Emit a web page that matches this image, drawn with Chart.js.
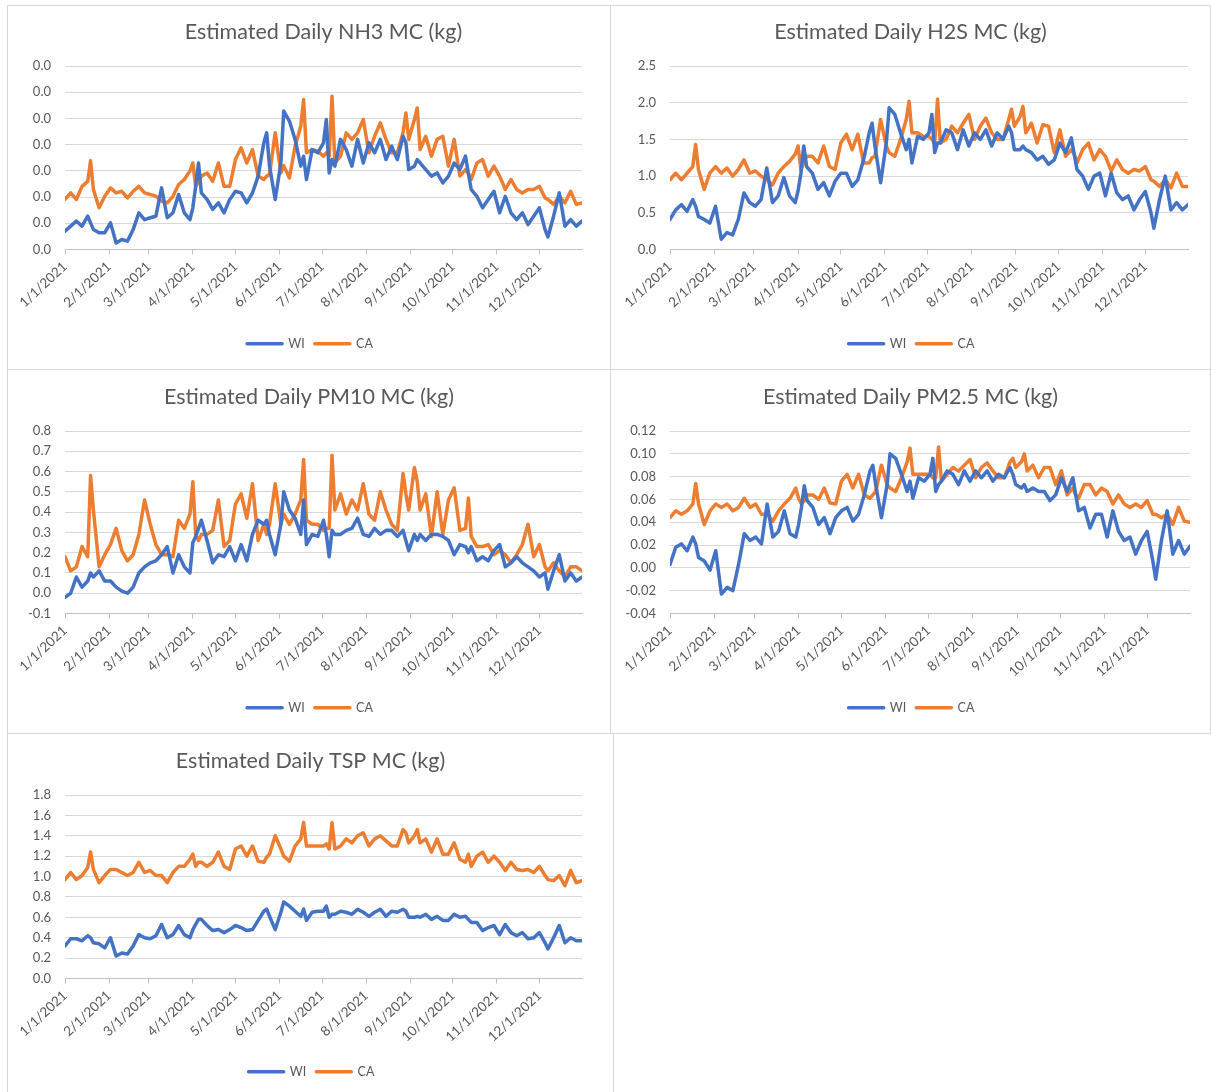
<!DOCTYPE html>
<html>
<head>
<meta charset="utf-8">
<script src="https://cdn.jsdelivr.net/npm/chart.js@4.4.1/dist/chart.umd.min.js"></script>
<style>
html,body{margin:0;padding:0;background:#fff;}
body{width:1211px;height:1092px;position:relative;overflow:hidden;font-family:Lato,sans-serif;}
.panel{position:absolute;box-sizing:border-box;border:1px solid #d9d9d9;background:#fff;}
.panel canvas{display:block;}
</style>
</head>
<body>
<div class="panel" style="left:7px;top:5px;width:604px;height:365px;"><canvas id="c1" width="602" height="363"></canvas></div>
<div class="panel" style="left:610px;top:5px;width:601px;height:365px;"><canvas id="c2" width="599" height="363"></canvas></div>
<div class="panel" style="left:7px;top:369px;width:604px;height:365px;"><canvas id="c3" width="602" height="363"></canvas></div>
<div class="panel" style="left:610px;top:369px;width:601px;height:365px;"><canvas id="c4" width="599" height="363"></canvas></div>
<div class="panel" style="left:7px;top:733px;width:607px;height:360px;"><canvas id="c5" width="605" height="358"></canvas></div>
<script>
// ---- DATA (day of year 2021, 0 = 1/1/2021) ----
const days = [0,4,8,12,16,18,20,24,28,32,
  36,40,44,48,52,56,60,64,68,72,
  76,80,84,88,90,92,94,96,100,104,
  108,112,116,120,124,128,132,136,140,142,
  144,148,152,154,158,162,166,168,170,174,
  178,182,184,186,188,190,194,198,202,206,
  210,214,218,222,226,230,234,238,240,242,
  246,248,250,254,258,262,266,270,274,278,
  282,284,286,290,294,298,302,306,310,314,
  318,322,326,330,334,338,340,344,348,352,
  356,360,364];

const monthTickDays = [0,31,59,90,120,151,181,212,243,273,304,334];
const monthTickLabels = ['1/1/2021','2/1/2021','3/1/2021','4/1/2021','5/1/2021','6/1/2021',
  '7/1/2021','8/1/2021','9/1/2021','10/1/2021','11/1/2021','12/1/2021'];
const seriesNames = ['WI','CA'];

const nh3WI = [0.00070,0.00089,0.00108,0.00089,0.00127,0.00102,0.00076,0.00064,0.00064,0.00102,
  0.00025,0.00038,0.00032,0.00076,0.00140,0.00114,0.00121,0.00127,0.00235,0.00121,
  0.00140,0.00210,0.00140,0.00114,0.00160,0.00241,0.00330,0.00216,0.00191,0.00153,
  0.00178,0.00140,0.00191,0.00222,0.00216,0.00178,0.00216,0.00280,0.00407,0.00445,
  0.00318,0.00191,0.00330,0.00528,0.00490,0.00420,0.00318,0.00356,0.00267,0.00381,
  0.00369,0.00407,0.00496,0.00292,0.00343,0.00318,0.00420,0.00381,0.00318,0.00420,
  0.00330,0.00407,0.00369,0.00420,0.00343,0.00394,0.00343,0.00432,0.00407,0.00305,
  0.00318,0.00343,0.00330,0.00305,0.00280,0.00292,0.00254,0.00280,0.00330,0.00305,
  0.00356,0.00290,0.00229,0.00203,0.00159,0.00191,0.00222,0.00140,0.00203,0.00140,
  0.00114,0.00140,0.00095,0.00127,0.00159,0.00076,0.00048,0.00127,0.00216,0.00089,
  0.00114,0.00089,0.00108];
const nh3CA = [0.00191,0.00216,0.00191,0.00241,0.00260,0.00339,0.00229,0.00159,0.00203,0.00235,
  0.00216,0.00222,0.00197,0.00222,0.00241,0.00216,0.00210,0.00203,0.00184,0.00178,
  0.00203,0.00248,0.00267,0.00300,0.00330,0.00241,0.00260,0.00280,0.00292,0.00260,
  0.00330,0.00241,0.00241,0.00343,0.00388,0.00330,0.00381,0.00280,0.00267,0.00280,
  0.00286,0.00445,0.00292,0.00320,0.00273,0.00394,0.00470,0.00572,0.00369,0.00381,
  0.00375,0.00356,0.00369,0.00356,0.00585,0.00330,0.00356,0.00445,0.00420,0.00445,
  0.00496,0.00369,0.00432,0.00483,0.00420,0.00369,0.00369,0.00445,0.00521,0.00420,
  0.00496,0.00540,0.00381,0.00432,0.00356,0.00420,0.00432,0.00318,0.00420,0.00280,
  0.00305,0.00290,0.00267,0.00330,0.00343,0.00280,0.00318,0.00280,0.00229,0.00267,
  0.00229,0.00216,0.00229,0.00229,0.00241,0.00197,0.00191,0.00172,0.00203,0.00178,
  0.00222,0.00172,0.00178];

const h2sWI = [0.41,0.54,0.61,0.52,0.68,0.59,0.45,0.41,0.36,0.59,
  0.14,0.23,0.20,0.41,0.77,0.64,0.59,0.68,1.11,0.64,
  0.73,0.98,0.73,0.64,0.80,1.04,1.41,1.13,1.04,0.82,
  0.91,0.73,0.93,1.04,1.04,0.86,0.95,1.22,1.59,1.72,
  1.41,0.91,1.45,1.93,1.84,1.59,1.36,1.50,1.18,1.54,
  1.50,1.59,1.84,1.32,1.45,1.45,1.63,1.59,1.36,1.63,
  1.41,1.59,1.50,1.63,1.41,1.59,1.50,1.68,1.59,1.36,
  1.36,1.41,1.36,1.32,1.22,1.27,1.16,1.22,1.45,1.32,
  1.52,1.30,1.09,1.00,0.82,1.00,1.04,0.73,1.04,0.77,
  0.68,0.73,0.54,0.68,0.79,0.50,0.29,0.68,1.00,0.54,
  0.64,0.54,0.61];
const h2sCA = [0.95,1.04,0.95,1.04,1.13,1.43,1.09,0.82,1.04,1.13,
  1.04,1.11,1.00,1.09,1.22,1.04,1.07,1.00,0.95,0.88,
  1.04,1.13,1.20,1.30,1.41,1.09,1.18,1.27,1.27,1.18,
  1.41,1.13,1.09,1.45,1.57,1.36,1.57,1.18,1.18,1.25,
  1.27,1.77,1.41,1.32,1.27,1.50,1.77,2.02,1.59,1.59,
  1.54,1.54,1.50,1.45,2.05,1.45,1.50,1.68,1.59,1.72,
  1.84,1.50,1.68,1.79,1.59,1.50,1.50,1.77,1.91,1.68,
  1.81,1.95,1.59,1.72,1.45,1.70,1.68,1.32,1.63,1.27,
  1.36,1.30,1.18,1.36,1.45,1.22,1.36,1.27,1.07,1.22,
  1.09,1.04,1.09,1.07,1.13,0.95,0.93,0.86,0.95,0.84,
  1.04,0.86,0.86];

const pm10WI = [-0.02,0.00,0.08,0.03,0.06,0.10,0.08,0.11,0.06,0.06,
  0.03,0.01,0.00,0.03,0.10,0.13,0.15,0.16,0.19,0.23,
  0.10,0.19,0.13,0.10,0.25,0.28,0.32,0.36,0.26,0.15,
  0.19,0.18,0.23,0.16,0.24,0.16,0.29,0.36,0.34,0.36,
  0.29,0.19,0.34,0.50,0.41,0.37,0.29,0.46,0.24,0.29,
  0.28,0.36,0.29,0.18,0.31,0.29,0.29,0.31,0.32,0.37,
  0.29,0.28,0.32,0.29,0.31,0.31,0.28,0.31,0.26,0.21,
  0.29,0.26,0.29,0.26,0.29,0.29,0.28,0.26,0.19,0.24,
  0.23,0.20,0.23,0.16,0.18,0.16,0.21,0.24,0.13,0.15,
  0.18,0.15,0.13,0.11,0.08,0.10,0.02,0.11,0.19,0.06,
  0.10,0.06,0.08];
const pm10CA = [0.18,0.11,0.13,0.23,0.18,0.58,0.41,0.13,0.19,0.24,
  0.32,0.21,0.16,0.19,0.29,0.46,0.34,0.24,0.19,0.19,
  0.18,0.36,0.32,0.39,0.55,0.29,0.26,0.29,0.29,0.31,
  0.46,0.23,0.26,0.44,0.49,0.37,0.54,0.26,0.34,0.29,
  0.34,0.54,0.34,0.39,0.34,0.39,0.46,0.66,0.36,0.34,
  0.34,0.31,0.32,0.32,0.68,0.41,0.49,0.39,0.46,0.41,
  0.54,0.39,0.36,0.50,0.41,0.34,0.31,0.59,0.49,0.41,
  0.62,0.55,0.41,0.49,0.28,0.50,0.29,0.46,0.52,0.31,
  0.32,0.47,0.28,0.23,0.23,0.24,0.19,0.21,0.19,0.15,
  0.19,0.24,0.34,0.18,0.24,0.13,0.11,0.15,0.11,0.08,
  0.13,0.13,0.11];

const pm25WI = [0.003,0.018,0.021,0.015,0.027,0.021,0.009,0.006,-0.002,0.015,
  -0.023,-0.017,-0.020,0.003,0.030,0.024,0.027,0.021,0.056,0.027,
  0.032,0.050,0.030,0.027,0.038,0.053,0.072,0.059,0.053,0.038,
  0.044,0.030,0.044,0.050,0.053,0.041,0.047,0.064,0.085,0.090,
  0.073,0.044,0.073,0.100,0.096,0.082,0.067,0.076,0.061,0.079,
  0.076,0.082,0.096,0.067,0.073,0.076,0.085,0.082,0.073,0.085,
  0.076,0.085,0.079,0.085,0.076,0.082,0.079,0.088,0.082,0.073,
  0.070,0.073,0.067,0.070,0.067,0.067,0.059,0.064,0.079,0.067,
  0.079,0.064,0.050,0.053,0.035,0.047,0.047,0.027,0.050,0.032,
  0.024,0.027,0.012,0.024,0.032,0.006,-0.010,0.024,0.050,0.012,
  0.024,0.012,0.019];
const pm25CA = [0.044,0.050,0.047,0.050,0.056,0.074,0.056,0.038,0.050,0.056,
  0.053,0.056,0.050,0.053,0.061,0.053,0.056,0.047,0.047,0.041,
  0.050,0.056,0.061,0.070,0.061,0.056,0.059,0.064,0.064,0.060,
  0.070,0.057,0.056,0.076,0.082,0.070,0.082,0.064,0.061,0.064,
  0.067,0.090,0.073,0.070,0.067,0.079,0.093,0.105,0.082,0.082,
  0.082,0.082,0.079,0.079,0.106,0.076,0.082,0.088,0.085,0.090,
  0.095,0.079,0.088,0.092,0.085,0.079,0.079,0.093,0.096,0.088,
  0.093,0.100,0.085,0.090,0.079,0.088,0.088,0.073,0.085,0.064,
  0.070,0.064,0.061,0.073,0.073,0.064,0.070,0.067,0.056,0.064,
  0.056,0.053,0.056,0.053,0.059,0.047,0.047,0.044,0.047,0.038,
  0.053,0.041,0.040];

const tspWI = [0.32,0.39,0.39,0.37,0.42,0.40,0.35,0.34,0.30,0.40,
  0.22,0.25,0.24,0.32,0.43,0.40,0.39,0.42,0.53,0.40,
  0.43,0.52,0.43,0.40,0.48,0.53,0.58,0.58,0.52,0.47,
  0.48,0.45,0.48,0.52,0.50,0.47,0.48,0.57,0.66,0.68,
  0.61,0.48,0.65,0.75,0.71,0.66,0.61,0.68,0.57,0.65,
  0.66,0.66,0.71,0.60,0.63,0.63,0.66,0.65,0.63,0.68,
  0.65,0.61,0.65,0.68,0.61,0.66,0.65,0.68,0.66,0.60,
  0.60,0.61,0.60,0.63,0.58,0.61,0.57,0.57,0.63,0.60,
  0.61,0.58,0.55,0.55,0.47,0.50,0.52,0.43,0.53,0.45,
  0.42,0.45,0.39,0.40,0.45,0.35,0.29,0.40,0.52,0.35,
  0.40,0.37,0.37];
const tspCA = [0.97,1.04,0.97,1.01,1.09,1.24,1.07,0.94,1.01,1.07,
  1.07,1.04,1.01,1.04,1.14,1.04,1.06,1.01,1.01,0.94,
  1.04,1.10,1.10,1.17,1.22,1.10,1.14,1.14,1.10,1.14,
  1.24,1.10,1.07,1.27,1.30,1.20,1.30,1.15,1.14,1.19,
  1.22,1.40,1.27,1.20,1.15,1.30,1.37,1.53,1.30,1.30,
  1.30,1.30,1.32,1.27,1.53,1.27,1.30,1.37,1.33,1.40,
  1.43,1.30,1.37,1.40,1.35,1.30,1.30,1.46,1.43,1.33,
  1.40,1.46,1.33,1.37,1.24,1.37,1.22,1.22,1.33,1.17,
  1.14,1.22,1.10,1.20,1.24,1.14,1.20,1.14,1.06,1.14,
  1.07,1.06,1.07,1.04,1.10,1.01,0.97,0.96,1.01,0.91,
  1.06,0.94,0.96];

// ---- STYLE ----
const WI_COLOR = '#4472C4';
const CA_COLOR = '#ED7D31';
const TEXT_COLOR = '#595959';
Chart.defaults.font.family = 'Lato, "Open Sans", sans-serif';

// shifts title / legend boxes horizontally so they are centred on the frame
const recenterPlugin = {
  id: 'recenter',
  afterLayout(chart, args, opts) {
    const shift = (b, dx) => { if (b && dx) { b.left += dx; b.right += dx; } };
    shift(chart.titleBlock, opts.titleDx || 0);
    shift(chart.legend, opts.legendDx || 0);
  }
};

function series(label, values, color) {
  return {
    label: label,
    data: days.map((d, i) => ({x: d, y: values[i]})),
    borderColor: color,
    backgroundColor: color,
    borderWidth: 3.5,
    pointRadius: 0,
    pointHoverRadius: 0,
    tension: 0,
    borderJoinStyle: 'round',
    borderCapStyle: 'round'
  };
}

function legendLabels(chart) {
  return chart.data.datasets.map((ds, i) => ({
    text: ds.label,
    fillStyle: ds.borderColor,
    strokeStyle: ds.borderColor,
    fontColor: TEXT_COLOR,
    lineWidth: 3.5,
    lineCap: 'round',
    pointStyle: 'line',
    hidden: false,
    datasetIndex: i
  }));
}

function buildChart(id, p) {
  const titleSize = 21.5;
  const lh = titleSize * 1.2;
  const titleTop = p.titleCenter - lh / 2;
  const titleBottom = p.plotTop - titleTop - lh;
  const legendTop = p.legendCenter - 16;
  const bottomPad = p.canvasH - (legendTop + 32);
  const xHeight = legendTop - p.plotBottom;
  new Chart(document.getElementById(id), {
    type: 'line',
    data: {datasets: [series(seriesNames[0], p.wi, WI_COLOR), series(seriesNames[1], p.ca, CA_COLOR)]},
    plugins: [recenterPlugin],
    options: {
      responsive: false,
      animation: false,
      devicePixelRatio: 1,
      events: [],
      layout: {padding: {left: 0, right: p.rightPad, top: 0, bottom: bottomPad}},
      plugins: {
        recenter: {titleDx: p.titleOverPlot ? 0 : p.rightPad / 2, legendDx: p.rightPad / 2 + 1},
        title: {display: true, text: p.title, color: TEXT_COLOR, fullSize: !p.titleOverPlot,
          font: {size: titleSize, weight: 'normal'}, padding: {top: titleTop, bottom: titleBottom}},
        legend: {position: 'bottom',
          labels: {usePointStyle: true, pointStyleWidth: 35, boxHeight: 12, color: TEXT_COLOR,
            font: {size: 12.5}, padding: 10, generateLabels: legendLabels}},
        tooltip: {enabled: false}
      },
      scales: {
        x: {
          type: 'linear', min: 0, max: 364,
          afterBuildTicks: s => { s.ticks = monthTickDays.map(v => ({value: v})); },
          afterFit: s => { s.height = xHeight; },
          ticks: {autoSkip: false, minRotation: 43, maxRotation: 43, color: TEXT_COLOR,
            font: {size: 13.5}, padding: 4, callback: (v, i) => monthTickLabels[i]},
          grid: {drawOnChartArea: false, drawTicks: true, tickLength: 5, color: '#bfbfbf'},
          border: {display: true, color: '#bfbfbf'}
        },
        y: {
          min: p.yMin, max: p.yMax,
          afterFit: s => { s.width = p.plotLeft; },
          ticks: {stepSize: p.yStep, color: TEXT_COLOR, font: {size: 13}, padding: 14,
            callback: v => Number(v).toFixed(p.dec)},
          grid: {color: '#d9d9d9', drawTicks: false},
          border: {display: false}
        }
      }
    }
  });
}

buildChart('c1', {title: 'Estimated Daily NH3 MC (kg)', wi: nh3WI, ca: nh3CA, titleOverPlot: true,
  yMin: 0, yMax: 0.007, yStep: 0.001, dec: 1,
  canvasH: 363, plotTop: 60, plotBottom: 244, titleCenter: 26, legendCenter: 338, plotLeft: 57, rightPad: 28});
buildChart('c2', {title: 'Estimated Daily H2S MC (kg)', wi: h2sWI, ca: h2sCA,
  yMin: 0, yMax: 2.5, yStep: 0.5, dec: 1,
  canvasH: 363, plotTop: 60, plotBottom: 244, titleCenter: 26, legendCenter: 338, plotLeft: 59, rightPad: 22});
buildChart('c3', {title: 'Estimated Daily PM10 MC (kg)', wi: pm10WI, ca: pm10CA,
  yMin: -0.1, yMax: 0.8, yStep: 0.1, dec: 1,
  canvasH: 363, plotTop: 61, plotBottom: 244, titleCenter: 27, legendCenter: 338, plotLeft: 57, rightPad: 28});
buildChart('c4', {title: 'Estimated Daily PM2.5 MC (kg)', wi: pm25WI, ca: pm25CA,
  yMin: -0.04, yMax: 0.12, yStep: 0.02, dec: 2,
  canvasH: 363, plotTop: 61, plotBottom: 244, titleCenter: 27, legendCenter: 338, plotLeft: 59, rightPad: 20});
buildChart('c5', {title: 'Estimated Daily TSP MC (kg)', wi: tspWI, ca: tspCA,
  yMin: 0, yMax: 1.8, yStep: 0.2, dec: 1,
  canvasH: 358, plotTop: 61, plotBottom: 245, titleCenter: 27, legendCenter: 338, plotLeft: 57, rightPad: 31});
</script>
</body>
</html>
